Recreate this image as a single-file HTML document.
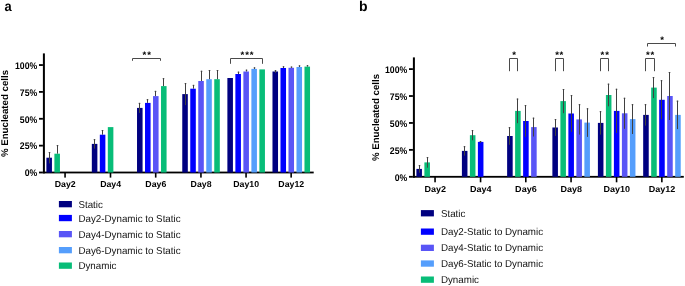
<!DOCTYPE html>
<html><head><meta charset="utf-8"><style>
html,body{margin:0;padding:0;background:#fff;}
svg{display:block;font-family:"Liberation Sans",sans-serif;text-rendering:geometricPrecision;}
</style></head><body>
<svg width="685" height="286" viewBox="0 0 685 286">
<rect width="685" height="286" fill="#fff"/>
<rect x="42.90" y="53.40" width="2.00" height="120.00" fill="#000"/>
<rect x="42.90" y="171.60" width="270.80" height="1.80" fill="#000"/>
<rect x="39.00" y="64.15" width="3.90" height="1.80" fill="#000"/>
<rect x="39.00" y="91.01" width="3.90" height="1.80" fill="#000"/>
<rect x="39.00" y="117.88" width="3.90" height="1.80" fill="#000"/>
<rect x="39.00" y="144.74" width="3.90" height="1.80" fill="#000"/>
<rect x="39.00" y="171.60" width="3.90" height="1.80" fill="#000"/>
<rect x="64.26" y="172.50" width="1.60" height="5.10" fill="#000"/>
<rect x="46.39" y="157.70" width="5.55" height="14.80" fill="#000080"/>
<line x1="49.50" y1="152.00" x2="49.50" y2="163.40" stroke="#404040" stroke-width="1.0"/>
<line x1="48.70" y1="152.50" x2="50.30" y2="152.50" stroke="#404040" stroke-width="1.0"/>
<rect x="54.39" y="153.70" width="5.55" height="18.80" fill="#08bd78"/>
<line x1="57.50" y1="145.10" x2="57.50" y2="153.70" stroke="#404040" stroke-width="1.0"/>
<line x1="56.70" y1="145.60" x2="58.30" y2="145.60" stroke="#404040" stroke-width="1.0"/>
<rect x="109.70" y="172.50" width="1.60" height="5.10" fill="#000"/>
<rect x="91.82" y="143.90" width="5.55" height="28.60" fill="#000080"/>
<line x1="94.50" y1="139.20" x2="94.50" y2="148.60" stroke="#404040" stroke-width="1.0"/>
<line x1="93.70" y1="139.70" x2="95.30" y2="139.70" stroke="#404040" stroke-width="1.0"/>
<rect x="99.82" y="134.70" width="5.55" height="37.80" fill="#0000ff"/>
<line x1="102.50" y1="130.00" x2="102.50" y2="134.70" stroke="#404040" stroke-width="1.0"/>
<line x1="101.70" y1="130.50" x2="103.30" y2="130.50" stroke="#404040" stroke-width="1.0"/>
<rect x="107.82" y="127.10" width="5.55" height="45.40" fill="#08bd78"/>
<rect x="154.90" y="172.50" width="1.60" height="5.10" fill="#000"/>
<rect x="137.02" y="107.90" width="5.55" height="64.60" fill="#000080"/>
<line x1="139.50" y1="102.90" x2="139.50" y2="112.90" stroke="#404040" stroke-width="1.0"/>
<line x1="138.70" y1="103.40" x2="140.30" y2="103.40" stroke="#404040" stroke-width="1.0"/>
<rect x="145.02" y="102.90" width="5.55" height="69.60" fill="#0000ff"/>
<line x1="147.50" y1="99.20" x2="147.50" y2="102.90" stroke="#404040" stroke-width="1.0"/>
<line x1="146.70" y1="99.70" x2="148.30" y2="99.70" stroke="#404040" stroke-width="1.0"/>
<rect x="153.02" y="96.10" width="5.55" height="76.40" fill="#5955f6"/>
<line x1="155.50" y1="90.90" x2="155.50" y2="96.10" stroke="#404040" stroke-width="1.0"/>
<line x1="154.70" y1="91.40" x2="156.30" y2="91.40" stroke="#404040" stroke-width="1.0"/>
<rect x="161.02" y="86.10" width="5.55" height="86.40" fill="#08bd78"/>
<line x1="163.50" y1="78.20" x2="163.50" y2="86.10" stroke="#404040" stroke-width="1.0"/>
<line x1="162.70" y1="78.70" x2="164.30" y2="78.70" stroke="#404040" stroke-width="1.0"/>
<rect x="200.14" y="172.50" width="1.60" height="5.10" fill="#000"/>
<rect x="182.26" y="94.10" width="5.55" height="78.40" fill="#000080"/>
<line x1="185.50" y1="83.10" x2="185.50" y2="105.10" stroke="#404040" stroke-width="1.0"/>
<line x1="184.70" y1="83.60" x2="186.30" y2="83.60" stroke="#404040" stroke-width="1.0"/>
<rect x="190.26" y="88.70" width="5.55" height="83.80" fill="#0000ff"/>
<line x1="193.50" y1="84.90" x2="193.50" y2="88.70" stroke="#404040" stroke-width="1.0"/>
<line x1="192.70" y1="85.40" x2="194.30" y2="85.40" stroke="#404040" stroke-width="1.0"/>
<rect x="198.26" y="81.00" width="5.55" height="91.50" fill="#5955f6"/>
<line x1="201.50" y1="70.80" x2="201.50" y2="81.00" stroke="#404040" stroke-width="1.0"/>
<line x1="200.70" y1="71.30" x2="202.30" y2="71.30" stroke="#404040" stroke-width="1.0"/>
<rect x="206.26" y="79.20" width="5.55" height="93.30" fill="#559efc"/>
<line x1="209.50" y1="70.00" x2="209.50" y2="79.20" stroke="#404040" stroke-width="1.0"/>
<line x1="208.70" y1="70.50" x2="210.30" y2="70.50" stroke="#404040" stroke-width="1.0"/>
<rect x="214.26" y="79.20" width="5.55" height="93.30" fill="#08bd78"/>
<line x1="217.50" y1="70.00" x2="217.50" y2="79.20" stroke="#404040" stroke-width="1.0"/>
<line x1="216.70" y1="70.50" x2="218.30" y2="70.50" stroke="#404040" stroke-width="1.0"/>
<rect x="245.26" y="172.50" width="1.60" height="5.10" fill="#000"/>
<rect x="227.38" y="78.00" width="5.55" height="94.50" fill="#000080"/>
<rect x="235.38" y="74.00" width="5.55" height="98.50" fill="#0000ff"/>
<line x1="238.50" y1="71.70" x2="238.50" y2="74.00" stroke="#404040" stroke-width="1.0"/>
<line x1="237.70" y1="72.20" x2="239.30" y2="72.20" stroke="#404040" stroke-width="1.0"/>
<rect x="243.38" y="71.50" width="5.55" height="101.00" fill="#5955f6"/>
<line x1="246.50" y1="69.70" x2="246.50" y2="71.50" stroke="#404040" stroke-width="1.0"/>
<line x1="245.70" y1="70.20" x2="247.30" y2="70.20" stroke="#404040" stroke-width="1.0"/>
<rect x="251.38" y="68.90" width="5.55" height="103.60" fill="#559efc"/>
<line x1="254.50" y1="67.40" x2="254.50" y2="68.90" stroke="#404040" stroke-width="1.0"/>
<line x1="253.70" y1="67.90" x2="255.30" y2="67.90" stroke="#404040" stroke-width="1.0"/>
<rect x="259.39" y="69.40" width="5.55" height="103.10" fill="#08bd78"/>
<rect x="290.35" y="172.50" width="1.60" height="5.10" fill="#000"/>
<rect x="272.48" y="71.50" width="5.55" height="101.00" fill="#000080"/>
<line x1="275.50" y1="70.10" x2="275.50" y2="72.90" stroke="#404040" stroke-width="1.0"/>
<line x1="274.70" y1="70.60" x2="276.30" y2="70.60" stroke="#404040" stroke-width="1.0"/>
<rect x="280.48" y="68.00" width="5.55" height="104.50" fill="#0000ff"/>
<line x1="283.50" y1="66.30" x2="283.50" y2="68.00" stroke="#404040" stroke-width="1.0"/>
<line x1="282.70" y1="66.80" x2="284.30" y2="66.80" stroke="#404040" stroke-width="1.0"/>
<rect x="288.48" y="67.80" width="5.55" height="104.70" fill="#5955f6"/>
<line x1="291.50" y1="66.60" x2="291.50" y2="67.80" stroke="#404040" stroke-width="1.0"/>
<line x1="290.70" y1="67.10" x2="292.30" y2="67.10" stroke="#404040" stroke-width="1.0"/>
<rect x="296.48" y="67.00" width="5.55" height="105.50" fill="#559efc"/>
<line x1="299.50" y1="65.40" x2="299.50" y2="67.00" stroke="#404040" stroke-width="1.0"/>
<line x1="298.70" y1="65.90" x2="300.30" y2="65.90" stroke="#404040" stroke-width="1.0"/>
<rect x="304.48" y="66.60" width="5.55" height="105.90" fill="#08bd78"/>
<line x1="307.50" y1="65.20" x2="307.50" y2="66.60" stroke="#404040" stroke-width="1.0"/>
<line x1="306.70" y1="65.70" x2="308.30" y2="65.70" stroke="#404040" stroke-width="1.0"/>
<path d="M132.50,60.80 V58.50 H160.50 V60.80" fill="none" stroke="#4a4a4a" stroke-width="1"/>
<path d="M230.50,63.80 V58.50 H262.50 V63.80" fill="none" stroke="#4a4a4a" stroke-width="1"/>
<rect x="412.90" y="57.40" width="2.00" height="120.30" fill="#000"/>
<rect x="412.90" y="175.90" width="270.90" height="1.80" fill="#000"/>
<rect x="409.00" y="68.20" width="3.90" height="1.80" fill="#000"/>
<rect x="409.00" y="95.12" width="3.90" height="1.80" fill="#000"/>
<rect x="409.00" y="122.05" width="3.90" height="1.80" fill="#000"/>
<rect x="409.00" y="148.97" width="3.90" height="1.80" fill="#000"/>
<rect x="409.00" y="175.90" width="3.90" height="1.80" fill="#000"/>
<rect x="434.26" y="176.80" width="1.60" height="5.50" fill="#000"/>
<rect x="416.39" y="168.90" width="5.55" height="7.90" fill="#000080"/>
<line x1="419.50" y1="165.10" x2="419.50" y2="172.70" stroke="#404040" stroke-width="1.0"/>
<line x1="418.70" y1="165.60" x2="420.30" y2="165.60" stroke="#404040" stroke-width="1.0"/>
<rect x="424.39" y="162.40" width="5.55" height="14.40" fill="#08bd78"/>
<line x1="427.50" y1="157.10" x2="427.50" y2="167.70" stroke="#404040" stroke-width="1.0"/>
<line x1="426.70" y1="157.60" x2="428.30" y2="157.60" stroke="#404040" stroke-width="1.0"/>
<rect x="479.77" y="176.80" width="1.60" height="5.50" fill="#000"/>
<rect x="461.90" y="150.90" width="5.55" height="25.90" fill="#000080"/>
<line x1="464.50" y1="146.20" x2="464.50" y2="155.60" stroke="#404040" stroke-width="1.0"/>
<line x1="463.70" y1="146.70" x2="465.30" y2="146.70" stroke="#404040" stroke-width="1.0"/>
<rect x="469.90" y="135.20" width="5.55" height="41.60" fill="#08bd78"/>
<line x1="472.50" y1="130.10" x2="472.50" y2="140.30" stroke="#404040" stroke-width="1.0"/>
<line x1="471.70" y1="130.60" x2="473.30" y2="130.60" stroke="#404040" stroke-width="1.0"/>
<rect x="477.90" y="141.90" width="5.55" height="34.90" fill="#0000ff"/>
<line x1="480.50" y1="141.00" x2="480.50" y2="142.80" stroke="#404040" stroke-width="1.0"/>
<line x1="479.70" y1="141.50" x2="481.30" y2="141.50" stroke="#404040" stroke-width="1.0"/>
<rect x="525.00" y="176.80" width="1.60" height="5.50" fill="#000"/>
<rect x="507.12" y="136.00" width="5.55" height="40.80" fill="#000080"/>
<line x1="509.50" y1="127.20" x2="509.50" y2="144.80" stroke="#404040" stroke-width="1.0"/>
<line x1="508.70" y1="127.70" x2="510.30" y2="127.70" stroke="#404040" stroke-width="1.0"/>
<rect x="515.12" y="110.90" width="5.55" height="65.90" fill="#08bd78"/>
<line x1="517.50" y1="98.60" x2="517.50" y2="123.20" stroke="#404040" stroke-width="1.0"/>
<line x1="516.70" y1="99.10" x2="518.30" y2="99.10" stroke="#404040" stroke-width="1.0"/>
<rect x="523.12" y="121.00" width="5.55" height="55.80" fill="#0000ff"/>
<line x1="525.50" y1="105.10" x2="525.50" y2="136.90" stroke="#404040" stroke-width="1.0"/>
<line x1="524.70" y1="105.60" x2="526.30" y2="105.60" stroke="#404040" stroke-width="1.0"/>
<rect x="531.12" y="127.10" width="5.55" height="49.70" fill="#5955f6"/>
<line x1="533.50" y1="117.70" x2="533.50" y2="136.50" stroke="#404040" stroke-width="1.0"/>
<line x1="532.70" y1="118.20" x2="534.30" y2="118.20" stroke="#404040" stroke-width="1.0"/>
<rect x="570.26" y="176.80" width="1.60" height="5.50" fill="#000"/>
<rect x="552.38" y="127.50" width="5.55" height="49.30" fill="#000080"/>
<line x1="555.50" y1="119.10" x2="555.50" y2="135.90" stroke="#404040" stroke-width="1.0"/>
<line x1="554.70" y1="119.60" x2="556.30" y2="119.60" stroke="#404040" stroke-width="1.0"/>
<rect x="560.38" y="101.10" width="5.55" height="75.70" fill="#08bd78"/>
<line x1="563.50" y1="89.00" x2="563.50" y2="113.20" stroke="#404040" stroke-width="1.0"/>
<line x1="562.70" y1="89.50" x2="564.30" y2="89.50" stroke="#404040" stroke-width="1.0"/>
<rect x="568.38" y="113.50" width="5.55" height="63.30" fill="#0000ff"/>
<line x1="571.50" y1="95.10" x2="571.50" y2="131.90" stroke="#404040" stroke-width="1.0"/>
<line x1="570.70" y1="95.60" x2="572.30" y2="95.60" stroke="#404040" stroke-width="1.0"/>
<rect x="576.38" y="119.40" width="5.55" height="57.40" fill="#5955f6"/>
<line x1="579.50" y1="104.20" x2="579.50" y2="134.60" stroke="#404040" stroke-width="1.0"/>
<line x1="578.70" y1="104.70" x2="580.30" y2="104.70" stroke="#404040" stroke-width="1.0"/>
<rect x="584.38" y="122.60" width="5.55" height="54.20" fill="#559efc"/>
<line x1="587.50" y1="108.30" x2="587.50" y2="136.90" stroke="#404040" stroke-width="1.0"/>
<line x1="586.70" y1="108.80" x2="588.30" y2="108.80" stroke="#404040" stroke-width="1.0"/>
<rect x="615.77" y="176.80" width="1.60" height="5.50" fill="#000"/>
<rect x="597.90" y="122.90" width="5.55" height="53.90" fill="#000080"/>
<line x1="600.50" y1="111.20" x2="600.50" y2="134.60" stroke="#404040" stroke-width="1.0"/>
<line x1="599.70" y1="111.70" x2="601.30" y2="111.70" stroke="#404040" stroke-width="1.0"/>
<rect x="605.90" y="95.00" width="5.55" height="81.80" fill="#08bd78"/>
<line x1="608.50" y1="83.70" x2="608.50" y2="106.30" stroke="#404040" stroke-width="1.0"/>
<line x1="607.70" y1="84.20" x2="609.30" y2="84.20" stroke="#404040" stroke-width="1.0"/>
<rect x="613.90" y="110.90" width="5.55" height="65.90" fill="#0000ff"/>
<line x1="616.50" y1="88.80" x2="616.50" y2="133.00" stroke="#404040" stroke-width="1.0"/>
<line x1="615.70" y1="89.30" x2="617.30" y2="89.30" stroke="#404040" stroke-width="1.0"/>
<rect x="621.90" y="113.30" width="5.55" height="63.50" fill="#5955f6"/>
<line x1="624.50" y1="97.80" x2="624.50" y2="128.80" stroke="#404040" stroke-width="1.0"/>
<line x1="623.70" y1="98.30" x2="625.30" y2="98.30" stroke="#404040" stroke-width="1.0"/>
<rect x="629.90" y="119.10" width="5.55" height="57.70" fill="#559efc"/>
<line x1="632.50" y1="104.20" x2="632.50" y2="134.00" stroke="#404040" stroke-width="1.0"/>
<line x1="631.70" y1="104.70" x2="633.30" y2="104.70" stroke="#404040" stroke-width="1.0"/>
<rect x="661.05" y="176.80" width="1.60" height="5.50" fill="#000"/>
<rect x="643.18" y="114.90" width="5.55" height="61.90" fill="#000080"/>
<line x1="645.50" y1="104.20" x2="645.50" y2="125.60" stroke="#404040" stroke-width="1.0"/>
<line x1="644.70" y1="104.70" x2="646.30" y2="104.70" stroke="#404040" stroke-width="1.0"/>
<rect x="651.18" y="87.60" width="5.55" height="89.20" fill="#08bd78"/>
<line x1="653.50" y1="77.10" x2="653.50" y2="98.10" stroke="#404040" stroke-width="1.0"/>
<line x1="652.70" y1="77.60" x2="654.30" y2="77.60" stroke="#404040" stroke-width="1.0"/>
<rect x="659.18" y="99.80" width="5.55" height="77.00" fill="#0000ff"/>
<line x1="661.50" y1="80.20" x2="661.50" y2="119.40" stroke="#404040" stroke-width="1.0"/>
<line x1="660.70" y1="80.70" x2="662.30" y2="80.70" stroke="#404040" stroke-width="1.0"/>
<rect x="667.18" y="96.00" width="5.55" height="80.80" fill="#5955f6"/>
<line x1="669.50" y1="72.00" x2="669.50" y2="120.00" stroke="#404040" stroke-width="1.0"/>
<line x1="668.70" y1="72.50" x2="670.30" y2="72.50" stroke="#404040" stroke-width="1.0"/>
<rect x="675.18" y="114.90" width="5.55" height="61.90" fill="#559efc"/>
<line x1="677.50" y1="100.70" x2="677.50" y2="129.10" stroke="#404040" stroke-width="1.0"/>
<line x1="676.70" y1="101.20" x2="678.30" y2="101.20" stroke="#404040" stroke-width="1.0"/>
<path d="M509.50,71.20 V58.50 H517.50 V71.20" fill="none" stroke="#4a4a4a" stroke-width="1"/>
<path d="M555.50,71.20 V58.50 H563.50 V71.20" fill="none" stroke="#4a4a4a" stroke-width="1"/>
<path d="M600.50,71.20 V58.50 H608.50 V71.20" fill="none" stroke="#4a4a4a" stroke-width="1"/>
<path d="M645.50,71.20 V58.50 H654.50 V71.20" fill="none" stroke="#4a4a4a" stroke-width="1"/>
<path d="M647.50,46.50 V43.50 H675.50 V46.50" fill="none" stroke="#4a4a4a" stroke-width="1"/>
<rect x="58.90" y="201.00" width="13.00" height="6.30" fill="#000080"/>
<rect x="58.90" y="214.90" width="13.00" height="6.30" fill="#0000ff"/>
<rect x="58.90" y="231.00" width="13.00" height="6.30" fill="#5955f6"/>
<rect x="58.90" y="247.00" width="13.00" height="6.30" fill="#559efc"/>
<rect x="58.90" y="262.50" width="13.00" height="6.30" fill="#08bd78"/>
<rect x="420.90" y="210.10" width="13.00" height="6.30" fill="#000080"/>
<rect x="420.90" y="228.50" width="13.00" height="6.30" fill="#0000ff"/>
<rect x="420.90" y="244.70" width="13.00" height="6.30" fill="#5955f6"/>
<rect x="420.90" y="260.40" width="13.00" height="6.30" fill="#559efc"/>
<rect x="420.90" y="276.50" width="13.00" height="6.30" fill="#08bd78"/>
<g class="t" style="filter:grayscale(1)">
<text transform="translate(37.20,68.80) scale(0.906,1)" font-size="9.6" font-weight="bold" text-anchor="end" fill="#000">100%</text>
<text transform="translate(37.20,95.66) scale(0.906,1)" font-size="9.6" font-weight="bold" text-anchor="end" fill="#000">75%</text>
<text transform="translate(37.20,122.53) scale(0.906,1)" font-size="9.6" font-weight="bold" text-anchor="end" fill="#000">50%</text>
<text transform="translate(37.20,149.39) scale(0.906,1)" font-size="9.6" font-weight="bold" text-anchor="end" fill="#000">25%</text>
<text transform="translate(37.20,176.25) scale(0.906,1)" font-size="9.6" font-weight="bold" text-anchor="end" fill="#000">0%</text>
<text transform="translate(8.30,113.50) scale(1.0,1) rotate(-90)" font-size="9.7" font-weight="bold" text-anchor="middle" fill="#000">% Enucleated cells</text>
<text transform="translate(65.16,186.80) scale(1.02,1)" font-size="8.6" font-weight="bold" text-anchor="middle" fill="#000">Day2</text>
<text transform="translate(110.60,186.80) scale(1.02,1)" font-size="8.6" font-weight="bold" text-anchor="middle" fill="#000">Day4</text>
<text transform="translate(155.80,186.80) scale(1.02,1)" font-size="8.6" font-weight="bold" text-anchor="middle" fill="#000">Day6</text>
<text transform="translate(201.04,186.80) scale(1.02,1)" font-size="8.6" font-weight="bold" text-anchor="middle" fill="#000">Day8</text>
<text transform="translate(246.16,186.80) scale(1.02,1)" font-size="8.6" font-weight="bold" text-anchor="middle" fill="#000">Day10</text>
<text transform="translate(291.25,186.80) scale(1.02,1)" font-size="8.6" font-weight="bold" text-anchor="middle" fill="#000">Day12</text>
<text x="144.40" y="58.10" font-size="9.6" font-weight="bold" text-anchor="middle">*</text>
<text x="149.20" y="58.10" font-size="9.6" font-weight="bold" text-anchor="middle">*</text>
<text x="242.40" y="58.10" font-size="9.6" font-weight="bold" text-anchor="middle">*</text>
<text x="247.10" y="58.10" font-size="9.6" font-weight="bold" text-anchor="middle">*</text>
<text x="251.60" y="58.10" font-size="9.6" font-weight="bold" text-anchor="middle">*</text>
<text transform="translate(407.20,72.85) scale(0.906,1)" font-size="9.6" font-weight="bold" text-anchor="end" fill="#000">100%</text>
<text transform="translate(407.20,99.78) scale(0.906,1)" font-size="9.6" font-weight="bold" text-anchor="end" fill="#000">75%</text>
<text transform="translate(407.20,126.70) scale(0.906,1)" font-size="9.6" font-weight="bold" text-anchor="end" fill="#000">50%</text>
<text transform="translate(407.20,153.62) scale(0.906,1)" font-size="9.6" font-weight="bold" text-anchor="end" fill="#000">25%</text>
<text transform="translate(407.20,180.55) scale(0.906,1)" font-size="9.6" font-weight="bold" text-anchor="end" fill="#000">0%</text>
<text transform="translate(379.30,117.50) scale(1.0,1) rotate(-90)" font-size="9.7" font-weight="bold" text-anchor="middle" fill="#000">% Enucleated cells</text>
<text transform="translate(435.16,191.80) scale(1.05,1)" font-size="8.6" font-weight="bold" text-anchor="middle" fill="#000">Day2</text>
<text transform="translate(480.67,191.80) scale(1.05,1)" font-size="8.6" font-weight="bold" text-anchor="middle" fill="#000">Day4</text>
<text transform="translate(525.90,191.80) scale(1.05,1)" font-size="8.6" font-weight="bold" text-anchor="middle" fill="#000">Day6</text>
<text transform="translate(571.16,191.80) scale(1.05,1)" font-size="8.6" font-weight="bold" text-anchor="middle" fill="#000">Day8</text>
<text transform="translate(616.67,191.80) scale(1.05,1)" font-size="8.6" font-weight="bold" text-anchor="middle" fill="#000">Day10</text>
<text transform="translate(661.95,191.80) scale(1.05,1)" font-size="8.6" font-weight="bold" text-anchor="middle" fill="#000">Day12</text>
<text x="514.00" y="58.20" font-size="9.6" font-weight="bold" text-anchor="middle">*</text>
<text x="557.10" y="58.20" font-size="9.6" font-weight="bold" text-anchor="middle">*</text>
<text x="561.40" y="58.20" font-size="9.6" font-weight="bold" text-anchor="middle">*</text>
<text x="602.40" y="58.20" font-size="9.6" font-weight="bold" text-anchor="middle">*</text>
<text x="607.10" y="58.20" font-size="9.6" font-weight="bold" text-anchor="middle">*</text>
<text x="647.80" y="58.20" font-size="9.6" font-weight="bold" text-anchor="middle">*</text>
<text x="652.40" y="58.20" font-size="9.6" font-weight="bold" text-anchor="middle">*</text>
<text x="662.00" y="43.20" font-size="9.6" font-weight="bold" text-anchor="middle">*</text>
<text transform="translate(78.40,207.60) scale(0.978,1)" font-size="10" font-weight="normal" text-anchor="start" fill="#111">Static</text>
<text transform="translate(78.40,221.50) scale(0.978,1)" font-size="10" font-weight="normal" text-anchor="start" fill="#111">Day2-Dynamic to Static</text>
<text transform="translate(78.40,237.60) scale(0.978,1)" font-size="10" font-weight="normal" text-anchor="start" fill="#111">Day4-Dynamic to Static</text>
<text transform="translate(78.40,253.60) scale(0.978,1)" font-size="10" font-weight="normal" text-anchor="start" fill="#111">Day6-Dynamic to Static</text>
<text transform="translate(78.40,269.10) scale(0.978,1)" font-size="10" font-weight="normal" text-anchor="start" fill="#111">Dynamic</text>
<text transform="translate(440.90,216.70) scale(0.978,1)" font-size="10" font-weight="normal" text-anchor="start" fill="#111">Static</text>
<text transform="translate(440.90,235.10) scale(0.978,1)" font-size="10" font-weight="normal" text-anchor="start" fill="#111">Day2-Static to Dynamic</text>
<text transform="translate(440.90,251.30) scale(0.978,1)" font-size="10" font-weight="normal" text-anchor="start" fill="#111">Day4-Static to Dynamic</text>
<text transform="translate(440.90,267.00) scale(0.978,1)" font-size="10" font-weight="normal" text-anchor="start" fill="#111">Day6-Static to Dynamic</text>
<text transform="translate(440.90,283.10) scale(0.978,1)" font-size="10" font-weight="normal" text-anchor="start" fill="#111">Dynamic</text>
<text transform="translate(4.50,10.70) scale(0.92,1)" font-size="14" font-weight="bold" text-anchor="start" fill="#000">a</text>
<text transform="translate(359.00,10.70) scale(1.0,1)" font-size="14" font-weight="bold" text-anchor="start" fill="#000">b</text>
</g>
</svg>
</body></html>
